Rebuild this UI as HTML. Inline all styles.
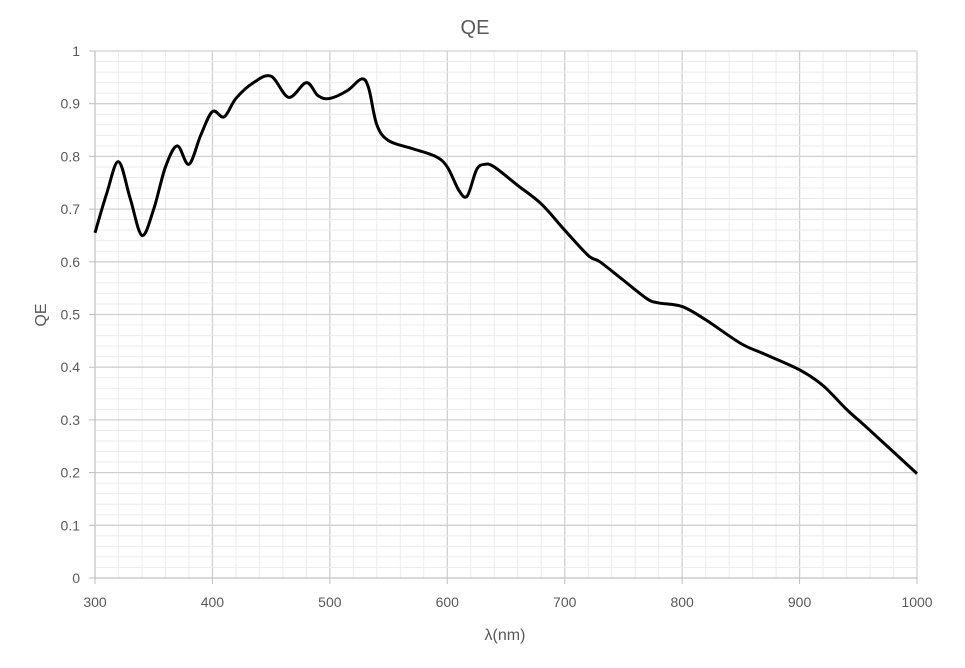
<!DOCTYPE html>
<html><head><meta charset="utf-8"><style>
body{margin:0;background:#fff;}
svg text{font-family:"Liberation Sans",sans-serif;fill:#595959;}
</style></head><body>
<svg id="s" width="965" height="663" xmlns="http://www.w3.org/2000/svg">
<rect width="965" height="663" fill="#fff"/>
<g id="grid"></g>
<text x="475" y="34" font-size="20" text-anchor="middle">QE</text>
<text x="505" y="640" font-size="16" text-anchor="middle">λ(nm)</text>
<text transform="translate(46,315) rotate(-90)" font-size="16" text-anchor="middle">QE</text>
<path id="curve" fill="none" stroke="#000" stroke-width="3" stroke-linejoin="round"/>
</svg>
<script>
const X=v=>95+(v-300)*822/700, Y=v=>578-v*527;
let g='';
for(let n=300;n<=1000;n+=20){const x=X(n);const maj=(n%100===0);
 g+=`<line x1="${x}" y1="51" x2="${x}" y2="578" stroke="${maj?'#d0d0d0':'#ececec'}" stroke-width="${maj?1.3:1}"/>`;}
for(let i=0;i<=50;i++){const y=Y(i/50);const maj=(i%5===0);
 g+=`<line x1="95" y1="${y}" x2="917" y2="${y}" stroke="${maj?'#d0d0d0':'#ececec'}" stroke-width="${maj?1.3:1}"/>`;}
g+=`<line x1="95" y1="51" x2="95" y2="578" stroke="#bfbfbf"/>`;
g+=`<line x1="95" y1="578" x2="917" y2="578" stroke="#bfbfbf"/>`;
for(let i=0;i<=10;i++){const y=Y(i/10);g+=`<line x1="89" y1="${y}" x2="95" y2="${y}" stroke="#bfbfbf"/><text x="80" y="${y+5}" font-size="14" text-anchor="end">${i==0?0:i==10?1:(i/10).toFixed(1)}</text>`;}
for(let n=300;n<=1000;n+=100){const x=X(n);g+=`<line x1="${x}" y1="578" x2="${x}" y2="584" stroke="#bfbfbf"/><text x="${x}" y="607" font-size="14" text-anchor="middle">${n}</text>`;}
document.getElementById('grid').innerHTML=g;
const d=[[300,.655],[310,.73],[320,.79],[330,.72],[340,.65],[350,.70],[360,.78],[370,.82],[380,.785],[390,.84],[400,.885],[410,.875],[420,.91],[435,.94],[450,.952],[465,.912],[480,.94],[490,.915],[500,.91],[515,.925],[527,.947],[533,.93],[540,.86],[550,.83],[570,.815],[590,.80],[600,.78],[610,.735],[617,.725],[625,.775],[632,.785],[640,.78],[660,.745],[680,.71],[700,.66],[720,.612],[730,.60],[750,.565],[770,.53],[780,.522],[800,.515],[820,.49],[850,.445],[870,.425],[900,.395],[920,.365],[940,.32],[960,.28],[1000,.198]];
const p=d.map(a=>[X(a[0]),Y(a[1])]);
let s=`M${p[0][0]},${p[0][1]}`;
for(let i=0;i<p.length-1;i++){const p0=p[Math.max(0,i-1)],p1=p[i],p2=p[i+1],p3=p[Math.min(p.length-1,i+2)];
 s+=` C${p1[0]+(p2[0]-p0[0])/6},${p1[1]+(p2[1]-p0[1])/6} ${p2[0]-(p3[0]-p1[0])/6},${p2[1]-(p3[1]-p1[1])/6} ${p2[0]},${p2[1]}`;}
document.getElementById('curve').setAttribute('d',s);
</script>
</body></html>
